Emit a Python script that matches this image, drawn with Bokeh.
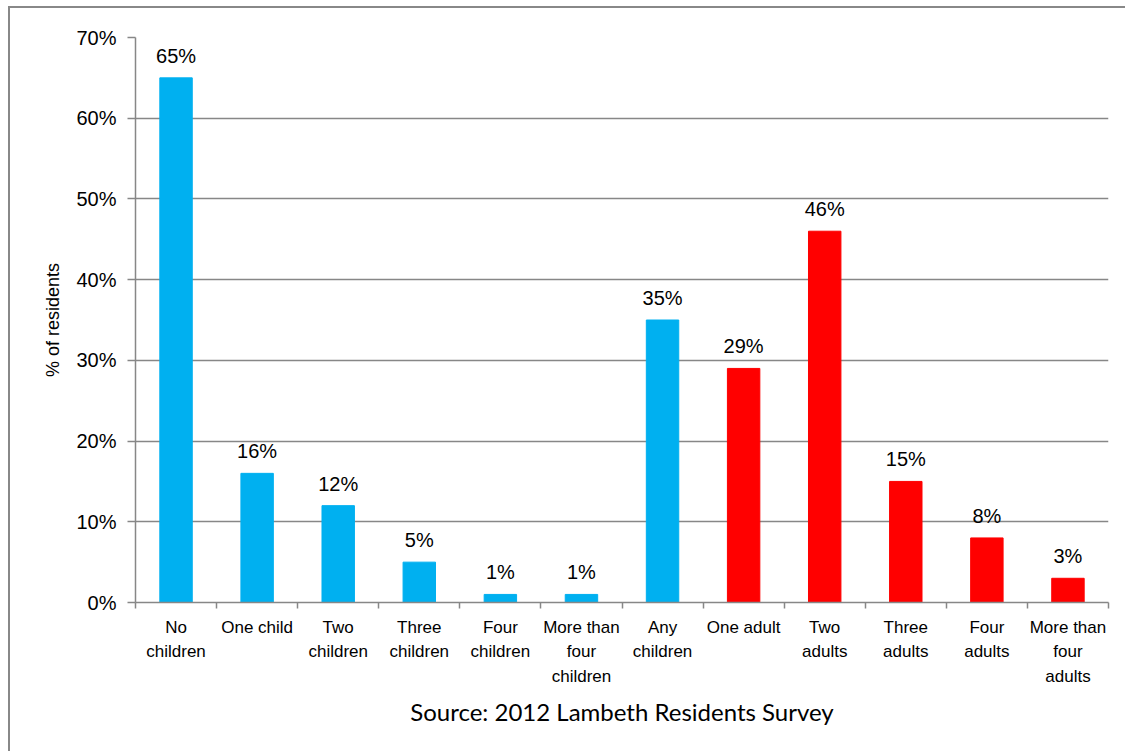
from bokeh.plotting import figure
from bokeh.models import (ColumnDataSource, Range1d, FixedTicker, PrintfTickFormatter,
                          LabelSet, Title)
from bokeh.core.properties import value
from bokeh.embed import file_html
from bokeh.resources import INLINE

categories = ["No\nchildren", "One child", "Two\nchildren", "Three\nchildren",
              "Four\nchildren", "More than\nfour\nchildren", "Any\nchildren",
              "One adult", "Two\nadults", "Three\nadults", "Four\nadults",
              "More than\nfour\nadults"]
values = [65, 16, 12, 5, 1, 1, 35, 29, 46, 15, 8, 3]
groups = ["children"] * 7 + ["adults"] * 5
y_ticks = [0, 10, 20, 30, 40, 50, 60, 70]
source_text = "Source: 2012 Lambeth Residents Survey"
y_title = "% of residents"

color_map = {"children": "#00B0F0", "adults": "#FF0000"}
GRAY = "#878787"

n = len(categories)
xs = [i + 0.5 for i in range(n)]
src = ColumnDataSource(dict(
    x=xs, top=values,
    color=[color_map[g] for g in groups],
    label=[f"{v}%" for v in values],
))

p = figure(width=1117, height=745, output_backend="svg", toolbar_location=None,
           x_range=Range1d(0, n), y_range=Range1d(0, 70),
           min_border_left=125, min_border_right=19, min_border_top=29,
           min_border_bottom=151)
p.styles = {"border-top": "2px solid #888888", "border-left": "2px solid #888888",
            "border-right": "none", "border-bottom": "none",
            "margin-left": "8px", "margin-top": "6px"}
p.outline_line_color = None
p.background_fill_color = "white"
p.border_fill_color = "white"

p.vbar(x="x", top="top", width=0.4, bottom=0, color="color", source=src)

labels = LabelSet(x="x", y="top", text="label", source=src, y_offset=15,
                  text_align="center", text_baseline="alphabetic",
                  text_font=value("Liberation Sans"), text_font_size=value("20px"),
                  text_color=value("#000000"))
p.add_layout(labels)

# x axis
xa = p.xaxis[0]
xa.ticker = FixedTicker(ticks=xs, minor_ticks=list(range(n + 1)))
xa.major_label_overrides = {x: c for x, c in zip(xs, categories)}
xa.major_tick_out = 0
xa.major_tick_in = 0
xa.minor_tick_out = 6
xa.minor_tick_in = 0
xa.minor_tick_line_color = GRAY
xa.minor_tick_line_width = 1.5
xa.axis_line_color = GRAY
xa.axis_line_width = 1.5
xa.major_label_standoff = 9
xa.major_label_text_font = "Liberation Sans"
xa.major_label_text_font_size = "17px"
xa.major_label_text_color = "#000000"
xa.major_label_text_line_height = 1.3

# y axis
ya = p.yaxis[0]
ya.ticker = FixedTicker(ticks=y_ticks)
ya.formatter = PrintfTickFormatter(format="%d%%")
ya.major_tick_out = 8
ya.major_tick_in = 0
ya.minor_tick_out = 0
ya.minor_tick_in = 0
ya.major_tick_line_color = GRAY
ya.major_tick_line_width = 1.5
ya.axis_line_color = GRAY
ya.axis_line_width = 1.5
ya.major_label_standoff = 11
ya.major_label_text_font = "Liberation Sans"
ya.major_label_text_font_size = "20px"
ya.major_label_text_color = "#000000"
ya.axis_label = y_title
ya.axis_label_text_font = "Liberation Sans"
ya.axis_label_text_font_size = "18px"
ya.axis_label_text_font_style = "normal"
ya.axis_label_text_color = "#000000"
ya.axis_label_standoff = 10

p.xgrid.grid_line_color = None
p.ygrid.ticker = FixedTicker(ticks=y_ticks)
p.ygrid.grid_line_color = GRAY
p.ygrid.grid_line_width = 1.5

p.add_layout(Title(text=source_text, align="center", text_font="Lato",
                   text_font_size="24px", text_font_style="normal",
                   text_color="#000000", standoff=12), "below")

open("out.html", "w").write(file_html(p, INLINE))
